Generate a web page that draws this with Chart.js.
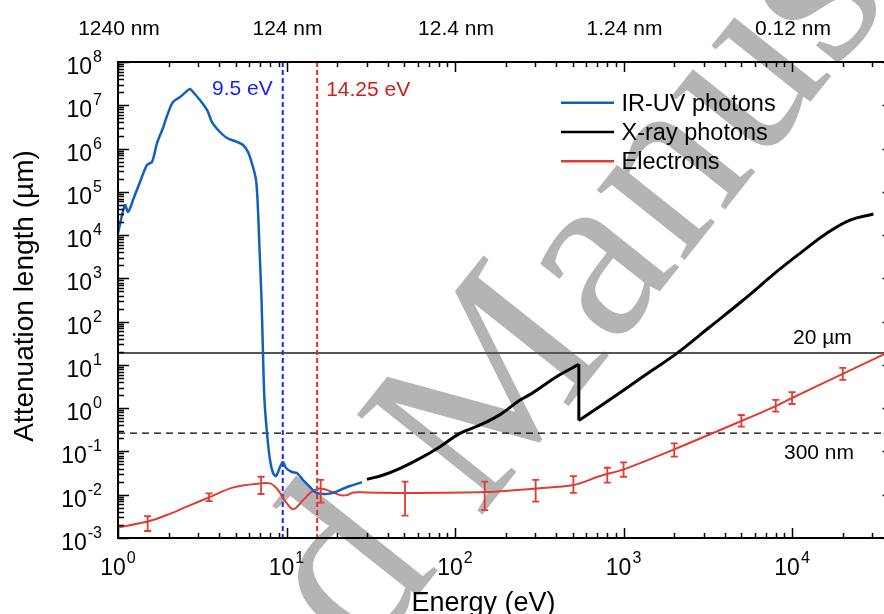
<!DOCTYPE html>
<html><head><meta charset="utf-8">
<script src="https://cdn.jsdelivr.net/npm/chart.js@4.4.1/dist/chart.umd.min.js"></script>
<style>html,body{margin:0;padding:0;overflow:hidden;background:#fff}#wrap{width:900px;height:614px;position:relative}</style>
</head><body><div id="wrap"><canvas id="c"></canvas></div>
<script>
// ---- data ----
const irE = [1.0,1.10,1.146,1.194,1.228,1.351,1.486,1.591,1.704,1.849,1.981,2.121,2.333,2.568,2.675,2.787,3.066,3.375,3.613,4.03,4.436,5.085,5.52,5.91,6.33,6.59,6.73,6.92,7.11,7.25,7.40,7.66,7.98,8.32,8.66,9.15,9.53,9.93,10.78,11.54,12.53,13.78,14.76,16.47,18.62,20.77,22.86,24.8,28.1];
const irV = [1.12e4,4.95e4,3.4e4,4.7e4,6.5e4,1.69e5,4.2e5,4.9e5,1.34e6,2.99e6,6.6e6,1.19e7,1.55e7,2.14e7,2.38e7,2.03e7,1.32e7,7.8e6,4.1e6,2.41e6,1.75e6,1.42e6,1.21e6,8.3e5,3.7e5,1.9e5,6.5e4,4.5e3,316,18.8,1.55,0.267,0.0634,0.0317,0.027,0.0437,0.057,0.0414,0.0335,0.0317,0.0219,0.0151,0.0115,0.0104,0.0109,0.0128,0.0151,0.0167,0.0196];

// X-ray photons: below and above the O K-edge
const xrLowE  = [30,37.5,47.2,62,81.5,107,141,185,243,286,409,543];
const xrLowV  = [0.0226,0.0285,0.0407,0.069,0.129,0.262,0.41,0.71,1.54,2.2,5.6,10.3];
const xrEdgeE = [543,543];
const xrEdgeV = [10.3,0.52];
const xrHighE = [543,1000,1436,2070,3260,5140,8110,11150,16070,22100,30400];
const xrHighV = [0.52,2.6,6.96,18.5,76,316,1426,3790,1.1e4,2.23e4,3.07e4];

const elE = [1.0,1.5,1.95,2.56,3.47,4.84,7.06,7.98,8.74,9.3,9.9,10.97,12.58,14.1,15.96,18.5,20.8,22.8,24.9,30,50.5,150,301,504,726,1000,2000,5000,8000,10000,20000,35000,40000];
const elV = [1.76e-3,2.4e-3,3.4e-3,5.3e-3,8.7e-3,1.48e-2,1.83e-2,1.83e-2,1.41e-2,1.0e-2,6.8e-3,4.6e-3,7.6e-3,1.17e-2,1.4e-2,1.17e-2,9.8e-3,9.8e-3,1.13e-2,1.13e-2,1.1e-2,1.15e-2,1.4e-2,1.67e-2,2.7e-2,3.86e-2,0.112,0.505,1.12,1.72,6.2,17.5,22];

const errE  = [1.5,3.47,7.06,15.96,50.5,150,301,504,801,1000,2000,5000,8000,10000,20000];
const errLo = [1.45e-3,7.1e-3,1.04e-2,6.6e-3,3.3e-3,4.4e-3,6.9e-3,1.1e-2,1.9e-2,2.6e-2,7.6e-2,0.373,0.83,1.25,4.5];
const errHi = [3.2e-3,1.07e-2,2.6e-2,2.2e-2,2.0e-2,2.0e-2,2.2e-2,2.7e-2,4.2e-2,5.6e-2,0.154,0.695,1.55,2.36,8.5];

const xTickExps = [0,1,2,3,4];
const yTickExps = [-3,-2,-1,0,1,2,3,4,5,6,7,8];
const topTickLabels = ['1240 nm','124 nm','12.4 nm','1.24 nm','0.12 nm'];
const vLineE = [9.5,15.2];
const vLineLabels = ['9.5 eV','14.25 eV'];
const hLineV = [18.8,0.265];
const hLineLabels = ['20 µm','300 nm'];
const seriesLabels = ['IR-UV photons','X-ray photons','Electrons'];

// ---- styling ----
const FONT = '"Liberation Sans", Arial, sans-serif';
const C_BLUE='#1060c0', C_RED='#e03c31', C_BLK='#000000';

function pts(xs,ys){return xs.map((x,i)=>({x:x,y:ys[i]}));}

function drawPow(ctx, exp, x, y, align){
  ctx.font='23px '+FONT; const bw=ctx.measureText('10').width;
  ctx.font='16px '+FONT; const ew=ctx.measureText(String(exp)).width;
  const tw=bw+ew+1;
  const x0 = align==='center' ? x-tw/2 : x-tw;
  ctx.textAlign='left'; ctx.textBaseline='alphabetic'; ctx.fillStyle='#000';
  ctx.font='23px '+FONT; ctx.fillText('10',x0,y);
  ctx.font='16px '+FONT; ctx.fillText(String(exp),x0+bw+1,y-12);
}
function logVals(min,max){
  const maj=[],mn=[];
  for(let e=Math.floor(Math.log10(min));e<=Math.ceil(Math.log10(max));e++){
    for(let m=1;m<10;m++){const v=m*Math.pow(10,e); if(v<min*0.999||v>max*1.001)continue; (m===1?maj:mn).push(v);}
  }
  return [maj,mn];
}

const decor = {
  id:'decor',
  beforeDraw(chart){
    const ctx=chart.ctx;
    ctx.save(); ctx.fillStyle='#fff'; ctx.fillRect(0,0,chart.width,chart.height);
    // watermark
    ctx.translate(478,520); ctx.rotate(-51.5*Math.PI/180);
    ctx.font='245px "Liberation Serif", "Times New Roman", serif'; ctx.fillStyle='#b4b4b4';
    ctx.textBaseline='alphabetic';
    ctx.textAlign='left'; ctx.fillText('Manuscript',0,0);
    ctx.textAlign='right'; ctx.fillText('Accepted ',0,0);
    ctx.restore();
  },
  beforeDatasetsDraw(chart){
    const ctx=chart.ctx, xs=chart.scales.x, ys=chart.scales.y, a=chart.chartArea;
    ctx.save();
    let y=ys.getPixelForValue(hLineV[0]);
    ctx.strokeStyle='#555'; ctx.lineWidth=2; ctx.setLineDash([]);
    ctx.beginPath(); ctx.moveTo(a.left,y); ctx.lineTo(a.right,y); ctx.stroke();
    y=ys.getPixelForValue(hLineV[1]);
    ctx.strokeStyle='#000'; ctx.lineWidth=1.3; ctx.setLineDash([7,5]);
    ctx.beginPath(); ctx.moveTo(a.left,y); ctx.lineTo(a.right,y); ctx.stroke();
    const vc=['#1f1fff','#ee2a22'];
    vLineE.forEach((e,i)=>{
      const x=xs.getPixelForValue(e);
      ctx.strokeStyle=vc[i]; ctx.lineWidth=2; ctx.setLineDash([5,3]);
      ctx.beginPath(); ctx.moveTo(x,a.top); ctx.lineTo(x,a.bottom); ctx.stroke();
    });
    ctx.restore();
  },
  afterDatasetsDraw(chart){
    const ctx=chart.ctx, xs=chart.scales.x, ys=chart.scales.y;
    ctx.save(); ctx.strokeStyle=C_RED; ctx.lineWidth=1.8; ctx.setLineDash([]);
    errE.forEach((e,i)=>{
      const x=xs.getPixelForValue(e), y1=ys.getPixelForValue(errLo[i]), y2=ys.getPixelForValue(errHi[i]);
      ctx.beginPath();
      ctx.moveTo(x,y1); ctx.lineTo(x,y2);
      ctx.moveTo(x-3.5,y1); ctx.lineTo(x+3.5,y1);
      ctx.moveTo(x-3.5,y2); ctx.lineTo(x+3.5,y2);
      ctx.stroke();
    });
    ctx.restore();
  },
  afterDraw(chart){
    const ctx=chart.ctx, xs=chart.scales.x, ys=chart.scales.y, a=chart.chartArea;
    ctx.save(); ctx.setLineDash([]);
    ctx.strokeStyle='#000'; ctx.lineWidth=2;
    ctx.strokeRect(a.left,a.top,a.right-a.left,a.bottom-a.top);
    ctx.lineWidth=1.5;
    const [xmaj,xmin]=logVals(xs.min,xs.max);
    const [ymaj,ymin]=logVals(ys.min,ys.max);
    ctx.beginPath();
    xmaj.forEach(v=>{const x=Math.round(xs.getPixelForValue(v))+0.5;
      ctx.moveTo(x,a.bottom); ctx.lineTo(x,a.bottom-10); ctx.moveTo(x,a.top); ctx.lineTo(x,a.top+10);});
    xmin.forEach(v=>{const x=Math.round(xs.getPixelForValue(v))+0.5;
      ctx.moveTo(x,a.bottom); ctx.lineTo(x,a.bottom-5); ctx.moveTo(x,a.top); ctx.lineTo(x,a.top+5);});
    ymaj.forEach(v=>{const y=Math.round(ys.getPixelForValue(v))+0.5;
      ctx.moveTo(a.left,y); ctx.lineTo(a.left+11,y); ctx.moveTo(a.right,y); ctx.lineTo(a.right-11,y);});
    ymin.forEach(v=>{const y=Math.round(ys.getPixelForValue(v))+0.5;
      ctx.moveTo(a.left,y); ctx.lineTo(a.left+6,y); ctx.moveTo(a.right,y); ctx.lineTo(a.right-6,y);});
    ctx.stroke();
    xTickExps.forEach(e=>drawPow(ctx,e,xs.getPixelForValue(Math.pow(10,e)),575,'center'));
    yTickExps.forEach(e=>drawPow(ctx,e,102,ys.getPixelForValue(Math.pow(10,e))+12,'right'));
    ctx.font='21px '+FONT; ctx.textAlign='center'; ctx.fillStyle='#000';
    xTickExps.forEach((e,i)=>ctx.fillText(topTickLabels[i],xs.getPixelForValue(Math.pow(10,e))+1,35));
    ctx.font='27px '+FONT; ctx.textAlign='center';
    ctx.fillText('Energy (eV)',483.5,611);
    ctx.font='28px '+FONT;
    ctx.save(); ctx.translate(33,296); ctx.rotate(-Math.PI/2); ctx.fillText('Attenuation length (µm)',0,0); ctx.restore();
    ctx.font='21px '+FONT;
    ctx.textAlign='right'; ctx.fillStyle='#1a1aff';
    ctx.fillText(vLineLabels[0],xs.getPixelForValue(vLineE[0])-10,95);
    ctx.textAlign='left'; ctx.fillStyle='#cc2020';
    ctx.fillText(vLineLabels[1],xs.getPixelForValue(vLineE[1])+9,96);
    ctx.fillStyle='#000';
    ctx.fillText(hLineLabels[0],793,344);
    ctx.fillText(hLineLabels[1],784,459);
    const cols=[C_BLUE,C_BLK,C_RED], rows=[102.7,132,161.3];
    ctx.font='23.5px '+FONT; ctx.textAlign='left';
    seriesLabels.forEach((t,i)=>{
      ctx.strokeStyle=cols[i]; ctx.lineWidth=2.5;
      ctx.beginPath(); ctx.moveTo(561,rows[i]); ctx.lineTo(614,rows[i]); ctx.stroke();
      ctx.fillStyle='#000'; ctx.fillText(t,621.5,rows[i]+8);
    });
    ctx.restore();
  }
};

new Chart(document.getElementById('c'),{
  type:'line',
  data:{datasets:[
    {label:seriesLabels[0],data:pts(irE,irV),borderColor:C_BLUE,borderWidth:2.5,pointRadius:0,tension:0.3,fill:false},
    {label:seriesLabels[1],data:pts(xrLowE,xrLowV),borderColor:C_BLK,borderWidth:3,pointRadius:0,tension:0.4,fill:false},
    {label:seriesLabels[1],data:pts(xrEdgeE,xrEdgeV),borderColor:C_BLK,borderWidth:3,pointRadius:0,tension:0,fill:false},
    {label:seriesLabels[1],data:pts(xrHighE,xrHighV),borderColor:C_BLK,borderWidth:3,pointRadius:0,tension:0.4,fill:false},
    {label:seriesLabels[2],data:pts(elE,elV),borderColor:C_RED,borderWidth:2,pointRadius:0,tension:0.3,fill:false}
  ]},
  options:{
    animation:false,responsive:true,maintainAspectRatio:false,devicePixelRatio:1,
    layout:{padding:{left:118,top:62,right:6.5,bottom:76}},
    plugins:{legend:{display:false},tooltip:{enabled:false}},
    scales:{
      x:{type:'logarithmic',min:1,max:40000,display:false},
      y:{type:'logarithmic',min:1e-3,max:1e8,display:false}
    }
  },
  plugins:[decor]
});
</script></body></html>
